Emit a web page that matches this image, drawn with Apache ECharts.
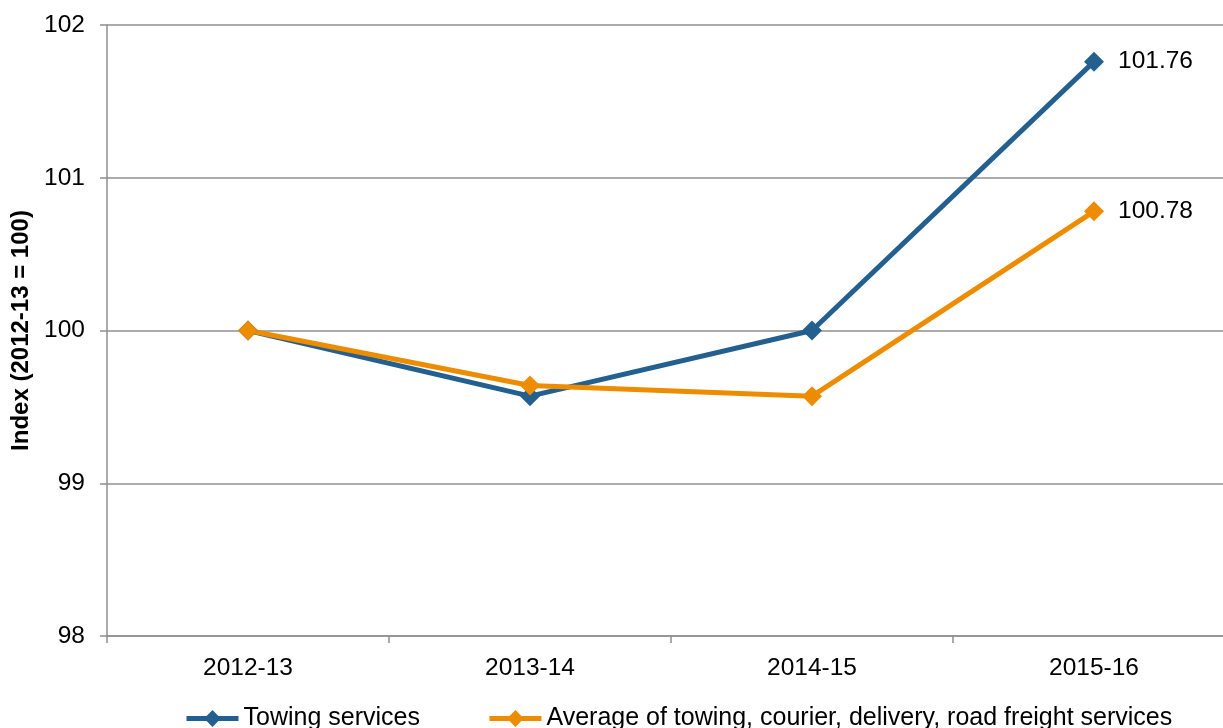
<!DOCTYPE html>
<html>
<head>
<meta charset="utf-8">
<script src="https://cdn.jsdelivr.net/npm/echarts@6/dist/echarts.min.js"></script>
<style>
html,body{margin:0;padding:0;background:#fff;}
#chart{width:1223px;height:728px;}
</style>
</head>
<body>
<div id="chart"></div>
<script>
var categories = ['2012-13', '2013-14', '2014-15', '2015-16'];
var towing = [100, 99.57, 100, 101.76];
var average = [100, 99.64, 99.57, 100.78];
var seriesNames = ['Towing services', 'Average of towing, courier, delivery, road freight services'];
var yTicks = [98, 99, 100, 101, 102];

var font = 'Liberation Sans, Arial, sans-serif';
var chart = echarts.init(document.getElementById('chart'));

function lastLabel(params) {
  return params.dataIndex === categories.length - 1 ? String(params.value) : '';
}

chart.setOption({
  animation: false,
  grid: { left: 107, top: 25, bottom: 92, right: -12, containLabel: false, outerBoundsMode: 'none' },
  legend: {
    left: 184, top: 706, padding: 0,
    itemWidth: 52, itemHeight: 21, itemGap: 67,
    lineStyle: { width: 5 },
    textStyle: { fontFamily: font, fontSize: 25, color: '#000' },
    data: seriesNames
  },
  xAxis: {
    type: 'category', data: categories, boundaryGap: true,
    axisLine: { lineStyle: { color: '#8f8f8f', width: 1.5 } },
    axisTick: { show: true, length: 7, alignWithLabel: false, lineStyle: { color: '#8f8f8f', width: 1.5 } },
    axisLabel: { fontFamily: font, fontSize: 24.5, color: '#000', margin: 20 }
  },
  yAxis: {
    type: 'value', min: yTicks[0], max: yTicks[yTicks.length - 1], interval: 1,
    name: 'Index (2012-13 = 100)', nameLocation: 'middle', nameGap: 67,
    nameTextStyle: { fontFamily: font, fontSize: 24, fontWeight: 'bold', color: '#000' },
    axisLine: { show: true, lineStyle: { color: '#8f8f8f', width: 1.5 } },
    axisTick: { show: true, length: 7, lineStyle: { color: '#8f8f8f', width: 1.5 } },
    axisLabel: { fontFamily: font, fontSize: 24.5, color: '#000', margin: 22 },
    splitLine: { show: true, lineStyle: { color: '#8f8f8f', width: 1.5 } }
  },
  series: [
    {
      name: seriesNames[0], type: 'line', data: towing,
      symbol: 'diamond', symbolSize: 20,
      lineStyle: { color: '#24608f', width: 5 },
      itemStyle: { color: '#24608f' },
      label: { show: true, position: 'right', distance: 14, formatter: lastLabel,
               fontFamily: font, fontSize: 24.5, color: '#000' }
    },
    {
      name: seriesNames[1], type: 'line', data: average,
      symbol: 'diamond', symbolSize: 20,
      lineStyle: { color: '#ee8c00', width: 5 },
      itemStyle: { color: '#ee8c00' },
      label: { show: true, position: 'right', distance: 14, formatter: lastLabel,
               fontFamily: font, fontSize: 24.5, color: '#000' }
    }
  ]
});
</script>
</body>
</html>
